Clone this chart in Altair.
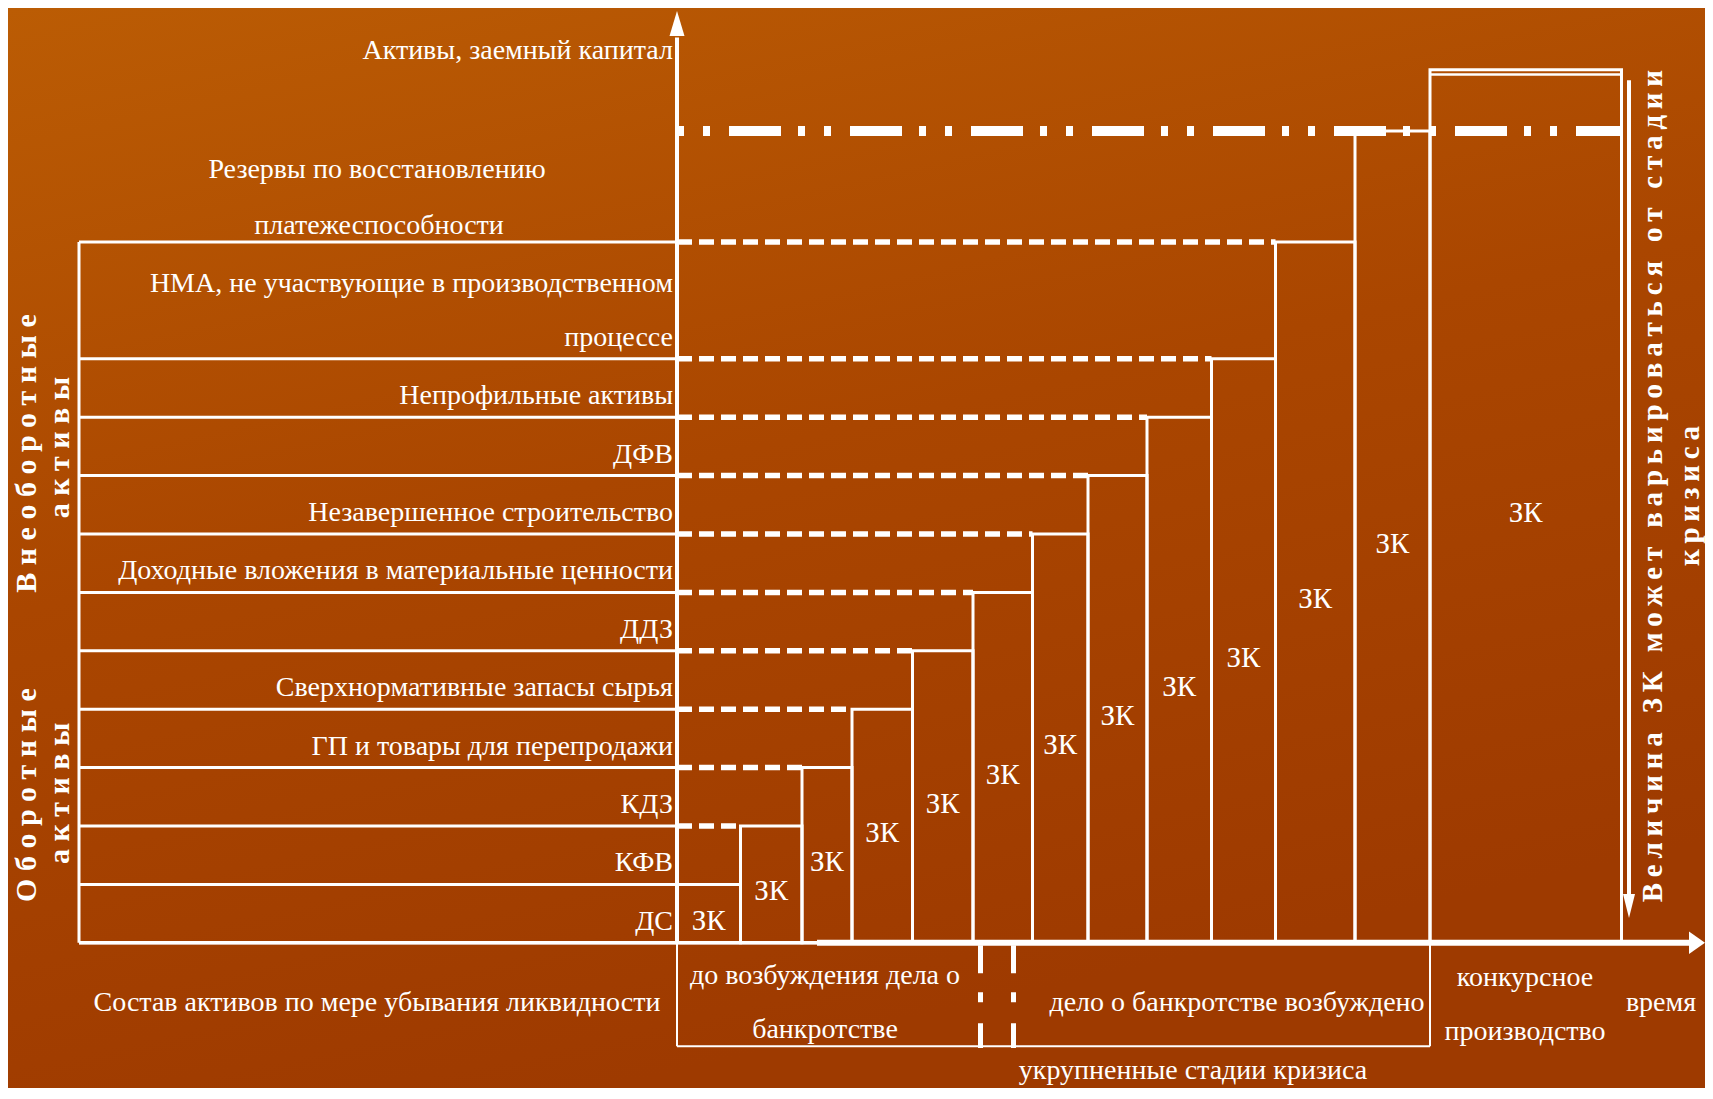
import altair as alt
import pandas as pd

# ---------------- data ----------------
# asset rows, from the most liquid (bottom) upwards; each row is 1 unit high
row_labels = ["ДС", "КФВ", "КДЗ", "ГП и товары для перепродажи",
              "Сверхнормативные запасы сырья", "ДДЗ",
              "Доходные вложения в материальные ценности",
              "Незавершенное строительство", "ДФВ", "Непрофильные активы"]
row_bottoms = [0, 1, 2, 3, 4, 5, 6, 7, 8, 9]
nma_label = ["НМА, не участвующие в производственном", "процессе"]   # row 10..12
reserve_label = ["Резервы по восстановлению", "платежеспособности"]  # 12..14
row_lines = [0, 1, 2, 3, 4, 5, 6, 7, 8, 9, 10, 12]
table_top = 12

# borrowed-capital (ЗК) steps along the time axis
bar_edges = [0, 63.5, 125, 175, 235.5, 296, 355.5, 411, 470, 534.5, 598.5, 678, 753, 944.5]
bar_heights = [1, 2, 3, 4, 5, 6, 7, 8, 9, 10, 12, 13.9, 14.95]
bar_label = "ЗК"
reserve_level = 13.9

# crisis stages on the time axis
stage_bounds = [0, 753]
stage_split = [303.5, 336.5]

FONT = "Liberation Serif"
W, H = 1697, 1080
xs = alt.Scale(domain=[-669, 1028], nice=False, zero=False)
ys = alt.Scale(domain=[-2.486, 16.007], nice=False, zero=False)


def X(f):
    return alt.X(f, type="quantitative", scale=xs, axis=None)


def Y(f):
    return alt.Y(f, type="quantitative", scale=ys, axis=None)


def hrule(df, width, dash=None, color="white"):
    kw = dict(color=color, strokeWidth=width, strokeCap="butt")
    if dash:
        kw["strokeDash"] = dash
    return alt.Chart(df).mark_rule(**kw).encode(x=X("x0"), x2="x1", y=Y("y"))


def vrule(df, width, dash=None):
    kw = dict(color="white", strokeWidth=width, strokeCap="butt")
    if dash:
        kw["strokeDash"] = dash
    return alt.Chart(df).mark_rule(**kw).encode(x=X("x"), y=Y("y0"), y2="y1")


def texts(df, size=28, align="center", angle=None, bold=False):
    kw = dict(font=FONT, fontSize=size, color="white", align=align, baseline="middle")
    if angle is not None:
        kw["angle"] = angle
    if bold:
        kw["fontWeight"] = "bold"
    return alt.Chart(df).mark_text(**kw).encode(x=X("x"), y=Y("y"), text="t:N")


def arrowhead(x, y, shape, size):
    return alt.Chart(pd.DataFrame({"x": [x], "y": [y]})).mark_point(
        shape=shape, filled=True, color="white", opacity=1, size=size, strokeWidth=0
    ).encode(x=X("x"), y=Y("y"))


# ---------------- frames ----------------
bars = pd.DataFrame({"x0": bar_edges[:-1], "x1": bar_edges[1:], "h": bar_heights})
bars["xc"] = (bars.x0 + bars.x1) / 2
bars["yc"] = bars.h / 2 - 0.12
bars["t"] = bar_label

dash_df = pd.DataFrame({"x0": 0, "x1": bars.x0[1:11].values, "y": bars.h[1:11].values})

background = alt.Chart(pd.DataFrame({"a": [0]})).mark_rect(
    color=alt.Gradient(
        gradient="linear",
        stops=[alt.GradientStop(offset=0, color="#BB5C04"),
               alt.GradientStop(offset=0.5, color="#AA4600"),
               alt.GradientStop(offset=1, color="#9E3A00")],
        x1=0, y1=0, x2=0.35, y2=1)
).encode(x=alt.value(0), x2=alt.value(W), y=alt.value(0), y2=alt.value(H))

table_lines = hrule(pd.DataFrame({"x0": -598, "x1": 0, "y": row_lines}), 3)
table_left = vrule(pd.DataFrame({"x": [-598], "y0": [0], "y1": [table_top]}), 3)

bar_rects = alt.Chart(bars).mark_rect(
    fillOpacity=0, stroke="white", strokeWidth=3
).encode(x=X("x0"), x2="x1", y=Y("h"), y2=alt.datum(0))

top_double = hrule(pd.DataFrame({"x0": [bar_edges[-2]], "x1": [bar_edges[-1]],
                                 "y": [bar_heights[-1] - 0.08]}), 2.5)

dashed = hrule(dash_df, 5.5, dash=[15, 7])
dashdot = hrule(pd.DataFrame({"x0": [0], "x1": [bar_edges[-1]], "y": [reserve_level]}),
                10, dash=[7, 19, 7, 19, 52, 17])

zk = alt.Chart(bars).mark_text(font=FONT, fontSize=29, color="white",
                               align="center", baseline="middle").encode(
    x=X("xc"), y=Y("yc"), text="t:N")

row_text = texts(pd.DataFrame({"t": row_labels, "x": -4,
                               "y": [b + 0.36 for b in row_bottoms]}), align="right")
nma_text = texts(pd.DataFrame({"t": nma_label, "x": -4, "y": [11.28, 10.36]}), align="right")
reserve_text = texts(pd.DataFrame({"t": reserve_label, "x": [-300, -298], "y": [13.23, 12.27]}))
yaxis_title = texts(pd.DataFrame({"t": ["Активы, заемный капитал"], "x": [-4], "y": [15.27]}),
                    align="right")

# axes
y_axis = vrule(pd.DataFrame({"x": [0], "y0": [0], "y1": [15.5]}), 4)
y_head = arrowhead(0, 15.74, "M-0.6,1L0,-1L0.6,1Z", 625)
x_axis_a = hrule(pd.DataFrame({"x0": [-598], "x1": [140], "y": [0]}), 3.5)
x_axis_b = hrule(pd.DataFrame({"x0": [140], "x1": [1015], "y": [0]}), 6)
x_head = arrowhead(1020, 0, "M-1,-1.4L1,0L-1,1.4Z", 256)

# stage bracket under the time axis
bracket_v = vrule(pd.DataFrame({"x": stage_bounds, "y0": 0, "y1": -1.77}), 2)
bracket_h = hrule(pd.DataFrame({"x0": [stage_bounds[0]], "x1": [stage_bounds[1]], "y": [-1.77]}), 2)
split = vrule(pd.DataFrame({"x": stage_split, "y0": -0.04, "y1": -1.8}), 5,
              dash=[28, 19, 10, 21])

bottom_text = texts(pd.DataFrame({
    "t": ["Состав активов по мере убывания ликвидности",
          "до возбуждения дела о", "банкротстве",
          "дело о банкротстве возбуждено",
          "конкурсное", "производство",
          "время",
          "укрупненные стадии кризиса"],
    "x": [-300, 148, 148, 560, 848, 848, 984, 516],
    "y": [-1.03, -0.57, -1.49, -1.03, -0.60, -1.53, -1.03, -2.2]}))

# rotated side captions (letter-spaced)
sp_left = "\u2005"
sp_right = "\u2009"
left_caps = texts(pd.DataFrame({
    "t": [sp_left.join("Внеоборотные"), sp_left.join("активы"),
          sp_left.join("Оборотные"), sp_left.join("активы")],
    "x": [-650, -617, -650, -617],
    "y": [8.38, 8.48, 2.53, 2.56]}), size=30, angle=270, bold=True)

right_caps = texts(pd.DataFrame({
    "t": [sp_right.join("Величина ЗК может варьироваться от стадии"), sp_right.join("кризиса")],
    "x": [976, 1013],
    "y": [7.82, 7.65]}), size=29, angle=270, bold=True)

right_arrow = vrule(pd.DataFrame({"x": [952], "y0": [14.77], "y1": [0.8]}), 4)
right_head = arrowhead(952, 0.63, "M-0.5,-1L0,1L0.5,-1Z", 576)

chart = alt.layer(
    background,
    table_lines, table_left,
    bar_rects, top_double,
    dashed, dashdot,
    zk, row_text, nma_text, reserve_text, yaxis_title,
    y_axis, y_head, x_axis_a, x_axis_b, x_head,
    bracket_v, bracket_h, split, bottom_text,
    left_caps, right_caps, right_arrow, right_head,
).properties(
    width=W, height=H, padding=0,
    autosize=alt.AutoSizeParams(type="none"),
    background="#AA4600",
).configure_view(stroke=None)

chart.save("out.html", embed_options={"renderer": "svg", "actions": False})
